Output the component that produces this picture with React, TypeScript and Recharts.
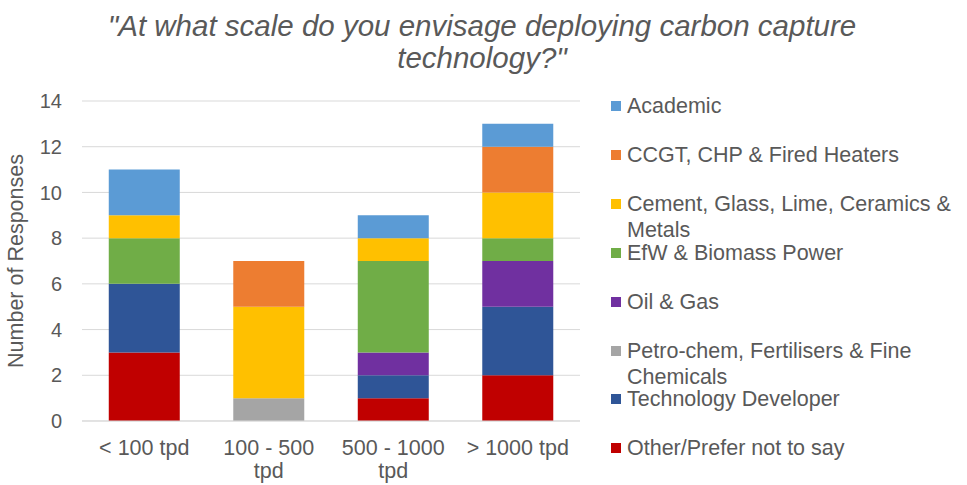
import { Bar, BarChart, CartesianGrid, XAxis, YAxis } from 'recharts'

const categories = ['< 100 tpd', '100 - 500 tpd', '500 - 1000 tpd', '> 1000 tpd']

// stack order, bottom to top
const other = [3, 0, 1, 2]
const techDev = [3, 0, 1, 3]
const petroChem = [0, 1, 0, 0]
const oilGas = [0, 0, 1, 2]
const efw = [2, 0, 4, 1]
const cement = [1, 4, 1, 2]
const ccgt = [0, 2, 0, 2]
const academic = [2, 0, 1, 1]

const yTicks = [0, 2, 4, 6, 8, 10, 12, 14]

const series = [
  { key: 'other', name: 'Other/Prefer not to say', color: '#C00000', values: other },
  { key: 'techDev', name: 'Technology Developer', color: '#2F5597', values: techDev },
  { key: 'petroChem', name: 'Petro-chem, Fertilisers & Fine Chemicals', color: '#A5A5A5', values: petroChem },
  { key: 'oilGas', name: 'Oil & Gas', color: '#7030A0', values: oilGas },
  { key: 'efw', name: 'EfW & Biomass Power', color: '#70AD47', values: efw },
  { key: 'cement', name: 'Cement, Glass, Lime, Ceramics & Metals', color: '#FFC000', values: cement },
  { key: 'ccgt', name: 'CCGT, CHP & Fired Heaters', color: '#ED7D31', values: ccgt },
  { key: 'academic', name: 'Academic', color: '#5B9BD5', values: academic },
]

const data = categories.map((cat, i) => {
  const row: Record<string, string | number> = { cat }
  series.forEach((s) => (row[s.key] = s.values[i]))
  return row
})

const TEXT = '#595959'
const FONT = '"Liberation Sans", Arial, sans-serif'

function CatTick({ x, y, payload }: any) {
  const label: string = payload.value
  // long labels break before the unit, like the original
  const cut = label.lastIndexOf(' ')
  const lines = label.length > 10 ? [label.slice(0, cut), label.slice(cut + 1)] : [label]
  return (
    <text x={x} y={y + 32} textAnchor="middle" fill={TEXT} fontSize={21.5} fontFamily={FONT}>
      {lines.map((l, i) => (
        <tspan key={i} x={x} dy={i === 0 ? 0 : 23}>
          {l}
        </tspan>
      ))}
    </text>
  )
}

function YLabel({ viewBox }: any) {
  const cy = viewBox.y + viewBox.height / 2
  return (
    <text
      x={16}
      y={cy}
      transform={`rotate(-90 16 ${cy})`}
      textAnchor="middle"
      dominantBaseline="central"
      fill={TEXT}
      fontSize={21.5}
      fontFamily={FONT}
    >
      Number of Responses
    </text>
  )
}

export default function App() {
  const legendItems = [...series].reverse()
  return (
    <div style={{ position: 'absolute', top: 0, left: 0, width: 967, height: 485, background: '#fff', fontFamily: FONT }}>
      <div
        style={{
          position: 'absolute',
          top: 10,
          left: 82,
          width: 800,
          textAlign: 'center',
          fontSize: 29.5,
          lineHeight: '32px',
          fontStyle: 'italic',
          color: TEXT,
        }}
      >
        "At what scale do you envisage deploying carbon capture technology?"
      </div>
      <BarChart width={967} height={485} data={data} margin={{ top: 101, right: 387, bottom: 0, left: 0 }} barCategoryGap="21.5%">
        <CartesianGrid vertical={false} stroke="#d9d9d9" />
        <XAxis
          dataKey="cat"
          height={64}
          axisLine={{ stroke: '#d9d9d9' }}
          tickLine={false}
          tickSize={0}
          interval={0}
          tick={<CatTick />}
        />
        <YAxis
          width={82}
          domain={[0, 14]}
          ticks={yTicks}
          axisLine={false}
          tickLine={false}
          tickSize={0}
          tickMargin={20}
          tick={{ fill: TEXT, fontSize: 20, fontFamily: FONT }}
          label={<YLabel />}
        />
        {series.map((s) => (
          <Bar key={s.key} dataKey={s.key} name={s.name} stackId="a" fill={s.color} isAnimationActive={false} />
        ))}
      </BarChart>
      {legendItems.map((s, i) => (
        <div
          key={s.key}
          style={{
            position: 'absolute',
            top: 106 + i * 48.9 - 13,
            left: 611,
            width: 356,
            display: 'flex',
            alignItems: 'flex-start',
          }}
        >
          <span style={{ width: 10, height: 10, marginTop: 8, background: s.color, flex: 'none' }} />
          <span style={{ marginLeft: 6, fontSize: 21.5, lineHeight: '26px', color: TEXT }}>{s.name}</span>
        </div>
      ))}
    </div>
  )
}
